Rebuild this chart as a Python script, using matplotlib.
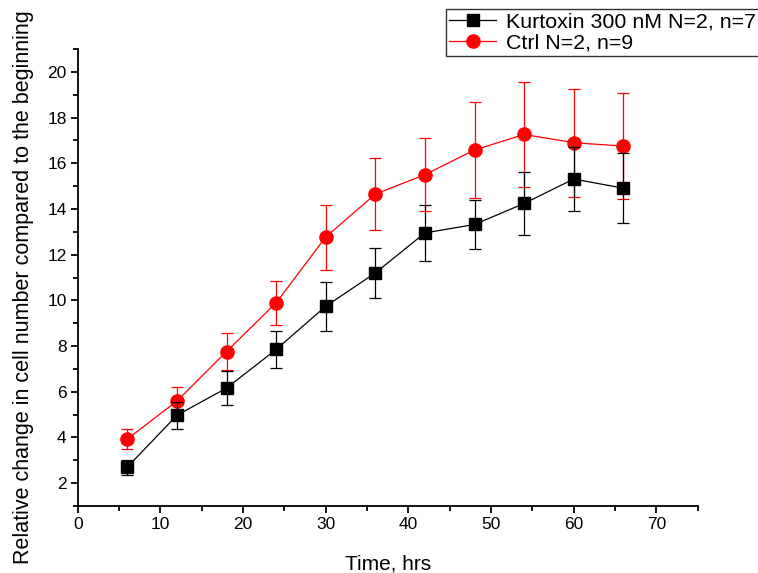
import matplotlib
matplotlib.use("Agg")
import matplotlib.pyplot as plt
from matplotlib.lines import Line2D
from matplotlib.ticker import MultipleLocator

plt.rcParams['font.family'] = ['Liberation Sans', 'DejaVu Sans']

time_hrs = [6, 12, 18, 24, 30, 36, 42, 48, 54, 60, 66]

kurtoxin_mean = [2.70, 4.97, 6.16, 7.85, 9.74, 11.20, 12.95, 13.32, 14.24, 15.31, 14.91]
kurtoxin_err = [0.33, 0.60, 0.73, 0.83, 1.08, 1.10, 1.23, 1.06, 1.39, 1.40, 1.52]

ctrl_mean = [3.93, 5.59, 7.76, 9.89, 12.77, 14.65, 15.50, 16.58, 17.26, 16.90, 16.75]
ctrl_err = [0.43, 0.60, 0.79, 0.96, 1.42, 1.58, 1.60, 2.10, 2.31, 2.36, 2.32]

kurtoxin_label = "Kurtoxin 300 nM N=2, n=7"
ctrl_label = "Ctrl N=2, n=9"

fig = plt.figure(figsize=(7.58, 5.73), dpi=100)
ax = fig.add_axes([77.7 / 758, 67 / 573, 620 / 758, 457 / 573])

red = '#ff0000'
ax.errorbar(time_hrs, ctrl_mean, yerr=ctrl_err, color=red, lw=0.9,
            marker='o', markersize=9.5, capsize=4.5, capthick=0.9,
            elinewidth=0.9, zorder=3)
ax.errorbar(time_hrs, kurtoxin_mean, yerr=kurtoxin_err, color='black', lw=0.9,
            marker='s', markersize=8.5, capsize=4.5, capthick=0.9,
            elinewidth=0.9, zorder=4)

ax.set_xlim(0, 75)
ax.set_ylim(1, 21)
ax.xaxis.set_major_locator(MultipleLocator(10))
ax.xaxis.set_minor_locator(MultipleLocator(5))
ax.yaxis.set_major_locator(MultipleLocator(2))
ax.yaxis.set_minor_locator(MultipleLocator(1))

for side in ('top', 'right'):
    ax.spines[side].set_visible(False)
for side in ('left', 'bottom'):
    ax.spines[side].set_linewidth(1.3)

ax.tick_params(axis='both', which='major', direction='out', length=5, width=1.3,
               labelsize=12.5, pad=3)
ax.tick_params(axis='both', which='minor', direction='out', length=3.5, width=1.3)

ax.set_xlabel("Time, hrs", fontsize=15, labelpad=16)
ax.set_ylabel("Relative change in cell number compared to the beginning",
              fontsize=15.5)
ax.yaxis.set_label_coords(-0.071, 0.478)

handles = [
    Line2D([], [], color='black', lw=0.9, marker='s', markersize=8.5),
    Line2D([], [], color=red, lw=0.9, marker='o', markersize=9.5),
]
leg = fig.legend(handles, [kurtoxin_label, ctrl_label],
                 loc='upper left', bbox_to_anchor=(446 / 758, 1 - 9 / 573),
                 fontsize=15.4, frameon=True, fancybox=False, handlelength=2.2,
                 handletextpad=0.45, borderpad=0.15, labelspacing=0.12,
                 borderaxespad=0)
leg.get_frame().set_edgecolor('black')
leg.get_frame().set_linewidth(1.0)

fig.savefig("out.png", dpi=100)
